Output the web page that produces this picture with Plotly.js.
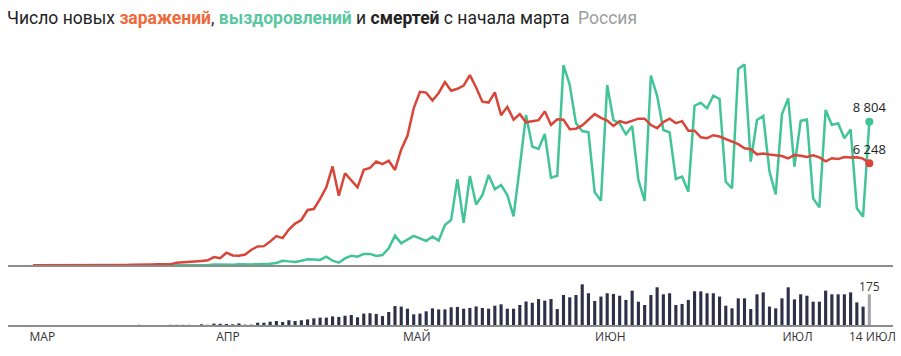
<!DOCTYPE html>
<html><head><meta charset="utf-8">
<script src="https://cdn.plot.ly/plotly-3.0.1.min.js"></script>
<style>html,body{margin:0;padding:0;background:#fff}#chart{width:901px;height:356px}</style>
</head><body><div id="chart"></div>
<script>
// Daily series, 2 Mar 2020 .. 14 Jul 2020 (Russia)
const firstDay = '2020-03-02';
const cases = [
 1,0,0,1,6,4,0,3,1,8,6,11,14,4,27,24,33,52,54,53,61,71,57,163,182,196,228,270,302,501,
 440,771,601,582,658,954,1154,1175,1459,1786,1667,2186,2558,2774,3388,3448,4070,4785,6060,4268,5642,5236,4774,5849,5966,6361,6198,6411,5841,7099,
 7933,9623,10633,10581,10102,10559,11231,10699,10817,11012,11656,10899,10028,9974,10598,9200,9709,8926,9263,8764,8849,8894,9434,8599,8946,8915,8338,8371,8572,8952,9268,
 9035,8863,8536,8831,8726,8855,8984,8985,8595,8404,8779,8987,8706,8835,8246,8248,7843,7790,7972,7889,7728,7600,7425,7176,7113,6800,6852,6791,6719,6693,
 6556,6760,6718,6632,6736,6611,6368,6562,6509,6635,6611,6615,6537,6248
];
const recovered = [
 0,0,0,0,0,0,0,0,0,0,0,0,0,2,0,0,3,2,0,5,0,0,0,6,4,6,22,19,0,55,
 35,20,40,60,45,50,70,60,90,140,280,240,210,280,370,350,330,530,280,160,420,590,530,700,700,570,630,1040,1820,1350,
 1550,1800,1650,1490,1760,1510,2470,2780,5270,2600,5470,3730,4300,5530,4660,4920,4310,3000,6040,9210,7270,7130,8050,5370,5490,12270,11050,8700,8230,8150,4470,
 3960,11050,8900,8700,8030,8540,5230,3940,11620,10390,8290,8150,5290,5430,4510,9780,9960,9620,10390,10190,5120,4720,12030,12310,6350,8900,9150,5740,4350,9250,
 10230,6040,8860,8940,4100,3550,9520,8600,8700,7780,8330,3490,2980,8804
];
const deaths = [
 0,0,0,0,0,0,0,0,0,0,0,0,0,0,0,0,0,1,0,0,0,0,1,1,1,1,0,4,1,8,
 7,6,4,9,2,2,13,13,19,23,17,27,23,27,32,38,42,42,49,46,53,57,44,65,67,63,51,74,108,105,
 93,61,65,78,95,89,89,101,103,93,97,106,97,93,110,118,93,93,114,134,127,148,139,148,91,171,158,171,232,181,137,
 162,181,177,167,143,196,133,114,171,215,175,181,114,120,143,192,192,181,181,162,110,95,152,152,91,175,186,105,95,152,
 215,146,175,167,133,133,196,175,175,175,186,129,105,175
];
const tickDates = ['2020-03-03 12:00','2020-04-02 06:00','2020-05-02 12:00','2020-06-02 12:00','2020-07-02 12:00','2020-07-14 12:00'];
const tickText = ['МАР','АПР','МАЙ','ИЮН','ИЮЛ','14 ИЮЛ'];

function buildDates(start, n){
  const p = start.split('-').map(Number);
  const t0 = Date.UTC(p[0], p[1]-1, p[2]);
  const out = [];
  for (let i=0;i<n;i++){ out.push(new Date(t0 + i*86400000).toISOString().slice(0,10)); }
  return out;
}
function fmt(v){ return String(v).replace(/\B(?=(\d{3})+(?!\d))/g, '\u00a0'); }

const dates = buildDates(firstDay, cases.length);
const last = dates.length - 1;
const GREEN = '#43c497', RED = '#d8463a', NAVY = '#2d3047', GREYBAR = '#a6a6a6';
const FONT = 'Open Sans, sans-serif';
const TFONT = 'Roboto, sans-serif';

const traces = [
  {x: dates, y: recovered, xaxis:'x2', yaxis:'y2', type:'scatter', mode:'lines',
   line:{color:GREEN, width:2.5}, hoverinfo:'skip'},
  {x: dates, y: cases, xaxis:'x2', yaxis:'y2', type:'scatter', mode:'lines',
   line:{color:RED, width:2.5}, hoverinfo:'skip'},
  {x: [dates[last], dates[last]], y: [recovered[last], cases[last]], xaxis:'x2', yaxis:'y2',
   type:'scatter', mode:'markers+text', cliponaxis:false,
   marker:{color:[GREEN, RED], size:8},
   text:[fmt(recovered[last]), fmt(cases[last])], textposition:'top center',
   textfont:{family:FONT, size:13, color:'#222'}, hoverinfo:'skip'},
  {x: dates, y: deaths, xaxis:'x', yaxis:'y', type:'bar',
   marker:{color: deaths.map((v,i)=> i===last ? GREYBAR : NAVY)}, hoverinfo:'skip'},
  {x: [dates[last]], y: [deaths[last]], xaxis:'x', yaxis:'y', type:'scatter', mode:'text',
   cliponaxis:false, text:[fmt(deaths[last])], textposition:'top center',
   textfont:{family:FONT, size:12, color:'#333'}, hoverinfo:'skip'}
];

const xr = ['2020-02-27', '2020-07-17 19:00'];
const layout = {
  width:901, height:356,
  margin:{l:8, r:8, t:0, b:31},
  paper_bgcolor:'#fff', plot_bgcolor:'#fff',
  showlegend:false, bargap:0.5,
  font:{family:FONT, color:'#333'},
  title:{
    text:'Число новых <span style="color:#ee6a3a"><b>заражений</b></span>, <span style="color:#5ac7a1"><b>выздоровлений</b></span> и <b>смертей</b> с начала марта\u00a0 <span style="color:#9d9d9d">Россия</span>',
    x: 7/901, xref:'container', xanchor:'left',
    y: 1-18/356, yref:'container', yanchor:'middle',
    font:{family:TFONT, size:17.5, color:'#222'}
  },
  xaxis:{type:'date', range:xr, domain:[0,1], anchor:'y',
    tickmode:'array', tickvals:tickDates, ticktext:tickText, ticks:'',
    tickfont:{family:FONT, size:12, color:'#333'},
    showgrid:false, zeroline:false, showline:true, linecolor:'#8c8c8c', linewidth:2, fixedrange:true},
  xaxis2:{type:'date', range:xr, domain:[0,1], anchor:'y2', showticklabels:false, ticks:'',
    showgrid:false, zeroline:false, showline:true, linecolor:'#8c8c8c', linewidth:2, fixedrange:true},
  yaxis:{domain:[0, 0.13846], range:[0, 256.6], visible:false, fixedrange:true},
  yaxis2:{domain:[0.18369, 0.86154], range:[0, 13500], visible:false, fixedrange:true}
};
Plotly.newPlot('chart', traces, layout, {displayModeBar:false, staticPlot:true});
</script></body></html>
